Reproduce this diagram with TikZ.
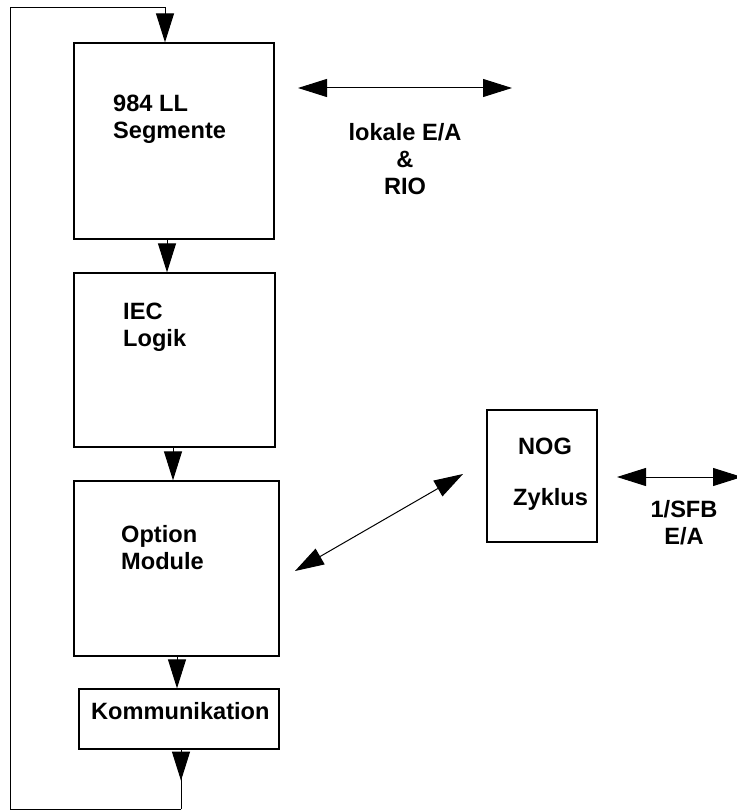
\documentclass[tikz,border=0pt]{standalone}
\usepackage{fontspec}
\setmainfont{Liberation Sans}
\usetikzlibrary{arrows.meta}

\begin{document}
\begin{tikzpicture}[x=1pt, y=-1pt,
    block/.style={draw, line width=1.3pt, inner sep=0pt},
    lbl/.style={font=\bfseries\fontsize{23.6}{27}\selectfont, inner sep=0pt},
    flow/.style={line width=1pt, -{Triangle[length=29pt,width=18pt]}},
    both/.style={line width=1pt, {Triangle[length=29pt,width=18pt]}-{Triangle[length=29pt,width=18pt]}}]
\useasboundingbox (0,0) rectangle (736,810);
% blocks
\node[block, minimum width=200pt, minimum height=196pt] (seg) at (174,141) {};
\node[block, minimum width=201pt, minimum height=174pt] (iec) at (174.5,360) {};
\node[block, minimum width=205pt, minimum height=175pt] (opt) at (176.5,568.5) {};
\node[block, minimum width=200pt, minimum height=60pt] (komm) at (179,719) {};
\node[block, minimum width=110pt, minimum height=132pt] (nog) at (542,476) {};
% texts
\node[lbl, anchor=north west, align=left] (segtxt) at (113,95) {984 LL\\Segmente};
\node[lbl, anchor=north west, align=left] (iectxt) at (123,303) {IEC\\Logik};
\node[lbl, anchor=north west, align=left] (opttxt) at (121,525) {Option\\Module};
\node[lbl, anchor=north west] (kommtxt) at (91,702) {Kommunikation};
\node[lbl, anchor=north west] (nogtxt) at (518,438) {NOG};
\node[lbl, anchor=north west] (zyktxt) at (513,488) {Zyklus};
\node[lbl, anchor=north, align=center] (iotxt) at (405,123) {lokale E/A\\\&\\RIO};
\node[lbl, anchor=north, align=center] (sfbtxt) at (684,500) {1/SFB\\E/A};
% free ends
\coordinate (ioL) at (298,88);
\coordinate (ioR) at (512,88);
\coordinate (optR) at (295,571);
\coordinate (nogL) at (463,474);
\coordinate (sfbL) at (617,477);
\coordinate (sfbR) at (742,477);
\coordinate (loopbr) at (181,809);
\coordinate (looptl) at (10,8);
% flow
\draw[flow] ([xshift=-7pt]seg.south) -- ([xshift=-7pt]seg.south |- iec.north);
\draw[flow] ([xshift=-1.5pt]iec.south) -- ([xshift=-1.5pt]iec.south |- opt.north);
\draw[flow] ([xshift=0.5pt]opt.south) -- ([xshift=0.5pt]opt.south |- komm.north);
\draw[line width=1pt] ([xshift=2pt]komm.south) -- (loopbr);
\draw[flow] ([xshift=2pt]komm.south) -- ++(0,31);
\draw[flow] (loopbr) -| (looptl) -| ([xshift=-9pt]seg.north);
% exchange
\draw[both] (ioL) -- (ioR);
\draw[both] (optR) -- (nogL);
\draw[both] (sfbL) -- (sfbR);
\end{tikzpicture}
\end{document}
